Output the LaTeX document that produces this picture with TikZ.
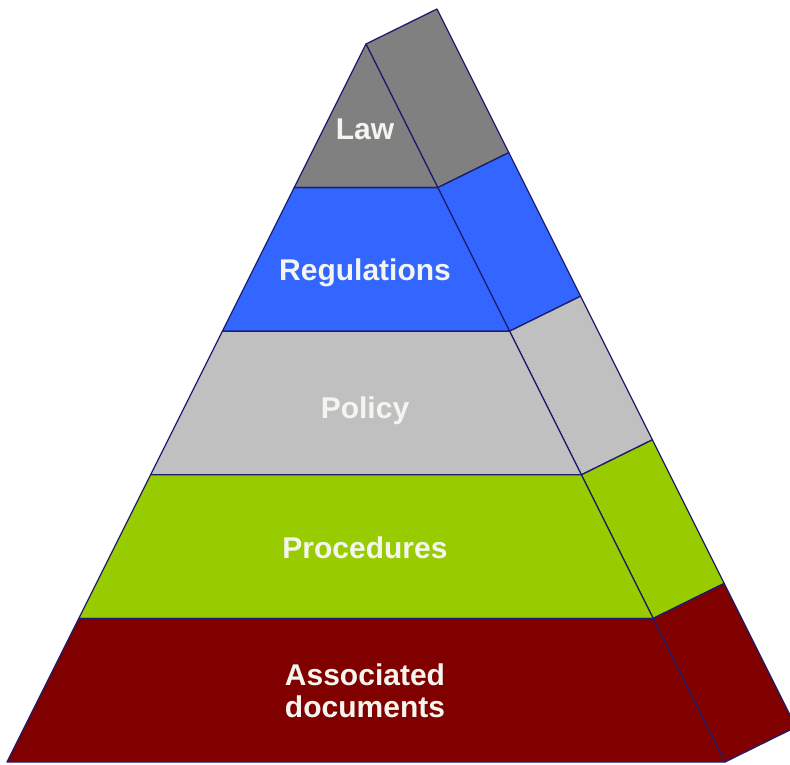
\documentclass[tikz,border=0pt]{standalone}
\usepackage{fontspec}
\setmainfont{Liberation Sans}
\definecolor{lawgrey}{RGB}{128,128,128}
\definecolor{regblue}{RGB}{51,102,255}
\definecolor{polgrey}{RGB}{192,192,192}
\definecolor{procgreen}{RGB}{153,204,0}
\definecolor{assocred}{RGB}{128,0,0}
\definecolor{edge}{RGB}{30,30,110}
\definecolor{lbltext}{RGB}{245,245,240}
\begin{document}
\begin{tikzpicture}[x=1pt,y=-1pt,
  face/.style={draw=edge,line width=1.3pt,line join=round},
  lbl/.style={text=lbltext,font=\bfseries\fontsize{30}{32}\selectfont,align=center,inner sep=0pt,anchor=base}]
\useasboundingbox (0,0) rectangle (790,765);
\clip (0,0) rectangle (790,765);
% front face boundary coordinates
\foreach \i/\y in {0/44,1/187.6,2/331.2,3/474.8,4/618.4,5/762}{
  \coordinate (L\i) at ({366-0.5*(\y-44)},\y);
  \coordinate (R\i) at ({366+0.5*(\y-44)},\y);
  \coordinate (S\i) at ({437+0.5*(\y-44)},{\y-35});
}
% side faces
\foreach \a/\b/\c in {0/1/lawgrey,1/2/regblue,2/3/polgrey,3/4/procgreen,4/5/assocred}{
  \filldraw[face,fill=\c] (R\a) -- (S\a) -- (S\b) -- (R\b) -- cycle;
}
% front faces
\filldraw[face,fill=lawgrey] (R0) -- (R1) -- (L1) -- cycle;
\foreach \a/\b/\c in {1/2/regblue,2/3/polgrey,3/4/procgreen,4/5/assocred}{
  \filldraw[face,fill=\c] (L\a) -- (R\a) -- (R\b) -- (L\b) -- cycle;
}
\node[lbl] (law) at (365,140) {Law};
\node[lbl] (reg) at (365,280) {Regulations};
\node[lbl] (pol) at (365,418) {Policy};
\node[lbl] (proc) at (365,558) {Procedures};
\node[lbl] (assoc) at (365,717) {Associated\\documents};
\end{tikzpicture}
\end{document}
